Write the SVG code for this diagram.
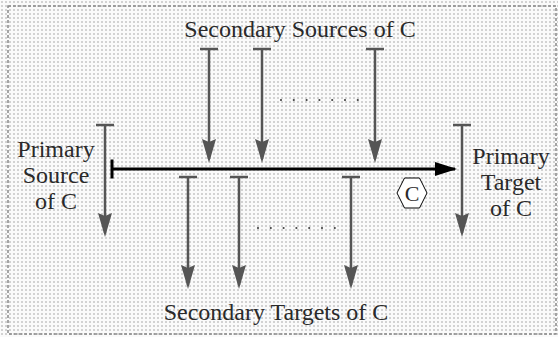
<svg xmlns="http://www.w3.org/2000/svg" width="558" height="337" viewBox="0 0 558 337">
<style>
text{font-family:"Liberation Serif","Times New Roman",serif;font-size:24px;fill:#2a2a2a;}
.g{stroke:#555;stroke-width:2.5;fill:none;marker-start:url(#bar);marker-end:url(#head);}
.dots{stroke:#444;stroke-width:2.2;stroke-linecap:round;stroke-dasharray:0 12.8;fill:none;}
</style>
<defs>
<pattern id="bg" width="4" height="4" patternUnits="userSpaceOnUse">
<rect width="4" height="4" fill="#fafafa"/>
<rect x="1" y="1" width="2" height="2" fill="#d2d2d2"/>
</pattern>
<marker id="head" markerUnits="userSpaceOnUse" markerWidth="30" markerHeight="20" viewBox="-22 -10 30 20" refX="0" refY="0" orient="auto">
<path d="M-20,-7 L4,0 L-20,7 L-17,0 z" fill="#555"/>
</marker>
<marker id="bar" markerUnits="userSpaceOnUse" markerWidth="6" markerHeight="22" viewBox="-3 -11 6 22" refX="0" refY="0" orient="auto">
<path d="M0,-9 V9" stroke="#555" stroke-width="2.5"/>
</marker>
<marker id="bhead" markerUnits="userSpaceOnUse" markerWidth="30" markerHeight="20" viewBox="-22 -10 30 20" refX="0" refY="0" orient="auto">
<path d="M-20,-7 L2,0 L-20,7 z" fill="#000"/>
</marker>
<marker id="bbar" markerUnits="userSpaceOnUse" markerWidth="6" markerHeight="24" viewBox="-3 -12 6 24" refX="0" refY="0" orient="auto">
<path d="M0,-9.5 V9.5" stroke="#000" stroke-width="3"/>
</marker>
</defs>
<rect x="0" y="0" width="558" height="337" fill="url(#bg)"/>
<rect x="8" y="6" width="548" height="328" fill="none" stroke="#888" stroke-width="1.5" stroke-dasharray="3 2"/>

<g id="connectors">
<line x1="209" y1="49" x2="209" y2="159" class="g"/>
<line x1="262" y1="49" x2="262" y2="159" class="g"/>
<line x1="375" y1="49" x2="375" y2="159" class="g"/>
<line x1="188" y1="177" x2="188" y2="285" class="g"/>
<line x1="239" y1="177" x2="239" y2="285" class="g"/>
<line x1="351" y1="177" x2="351" y2="285" class="g"/>
<line x1="105" y1="125" x2="105" y2="233" class="g"/>
<line x1="462" y1="125" x2="462" y2="233" class="g"/>
<line x1="112" y1="169" x2="455" y2="169" stroke="#000" stroke-width="3" marker-start="url(#bbar)" marker-end="url(#bhead)"/>
</g>

<g id="dots">
<line x1="281" y1="100" x2="358" y2="100" class="dots"/>
<line x1="258" y1="228" x2="335" y2="228" class="dots"/>
</g>

<g id="secondary-sources">
<text x="300" y="37" text-anchor="middle">Secondary Sources of C</text>
</g>
<g id="secondary-targets">
<text x="276" y="320" text-anchor="middle">Secondary Targets of C</text>
</g>
<g id="primary-source">
<text x="56" y="157" text-anchor="middle">Primary</text>
<text x="56" y="183" text-anchor="middle">Source</text>
<text x="56" y="209" text-anchor="middle">of C</text>
</g>
<g id="primary-target">
<text x="511" y="164" text-anchor="middle">Primary</text>
<text x="511" y="190" text-anchor="middle">Target</text>
<text x="511" y="216" text-anchor="middle">of C</text>
</g>
<g id="hexagon-c">
<polygon points="397,193 404.5,178 419.5,178 427,193 419.5,208 404.5,208" fill="#fff" stroke="#000" stroke-width="1"/>
<text x="412" y="201" text-anchor="middle" style="font-size:22px">C</text>
</g>
</svg>
